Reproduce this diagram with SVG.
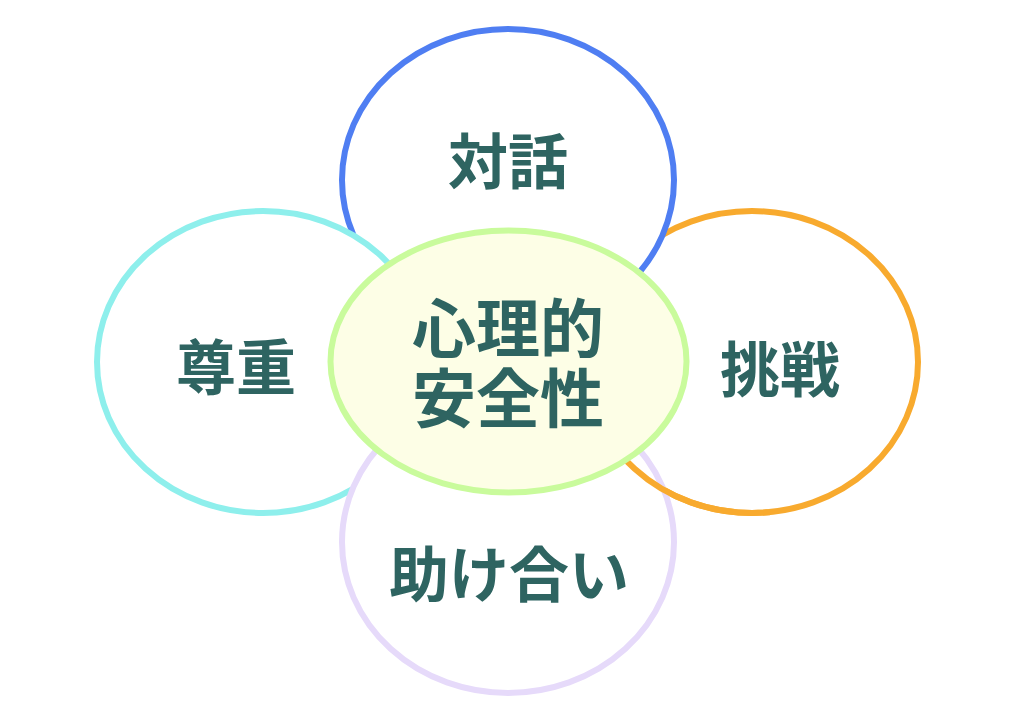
<svg xmlns="http://www.w3.org/2000/svg" width="1024" height="724" viewBox="0 0 1024 724">
<style>
.lbl{font-family:"Noto Sans CJK JP","Noto Sans CJK SC",sans-serif;font-weight:bold;fill:#2e6461;text-anchor:middle;dominant-baseline:central}
.outer{fill:#ffffff;stroke-width:6}
</style>
<defs>
<clipPath id="clipOr"><rect x="600" y="440" width="170" height="110"/></clipPath>
</defs>
<rect width="1024" height="724" fill="#ffffff"/>
<g id="node-orange">
<ellipse class="outer" cx="752" cy="362" rx="166" ry="151" stroke="#f8aa2e"/>
</g>
<g id="node-blue">
<ellipse class="outer" cx="508" cy="180" rx="166" ry="151" stroke="#4f7ef2"/>
</g>
<g id="node-cyan">
<ellipse class="outer" cx="263" cy="362" rx="166" ry="151" stroke="#8eefec"/>
</g>
<g id="node-lavender">
<ellipse class="outer" cx="508" cy="542" rx="166" ry="151" stroke="#e6dafa"/>
</g>
<g id="connectors">
<ellipse cx="752" cy="362" rx="166" ry="151" fill="none" stroke="#f8aa2e" stroke-width="6" clip-path="url(#clipOr)"/>
</g>
<g id="node-center">
<ellipse cx="508.5" cy="361.5" rx="178" ry="131" fill="#fdfee6" stroke="#c9fb9c" stroke-width="6"/>
<text class="lbl" font-size="64"><tspan x="508" y="324">心理的</tspan><tspan x="508" y="394">安全性</tspan></text>
</g>
<g id="labels">
<text class="lbl" x="508" y="157" font-size="60">対話</text>
<text class="lbl" x="236" y="363" font-size="60">尊重</text>
<text class="lbl" x="780" y="365" font-size="60">挑戦</text>
<text class="lbl" x="509" y="570" font-size="60">助け合い</text>
</g>
</svg>
